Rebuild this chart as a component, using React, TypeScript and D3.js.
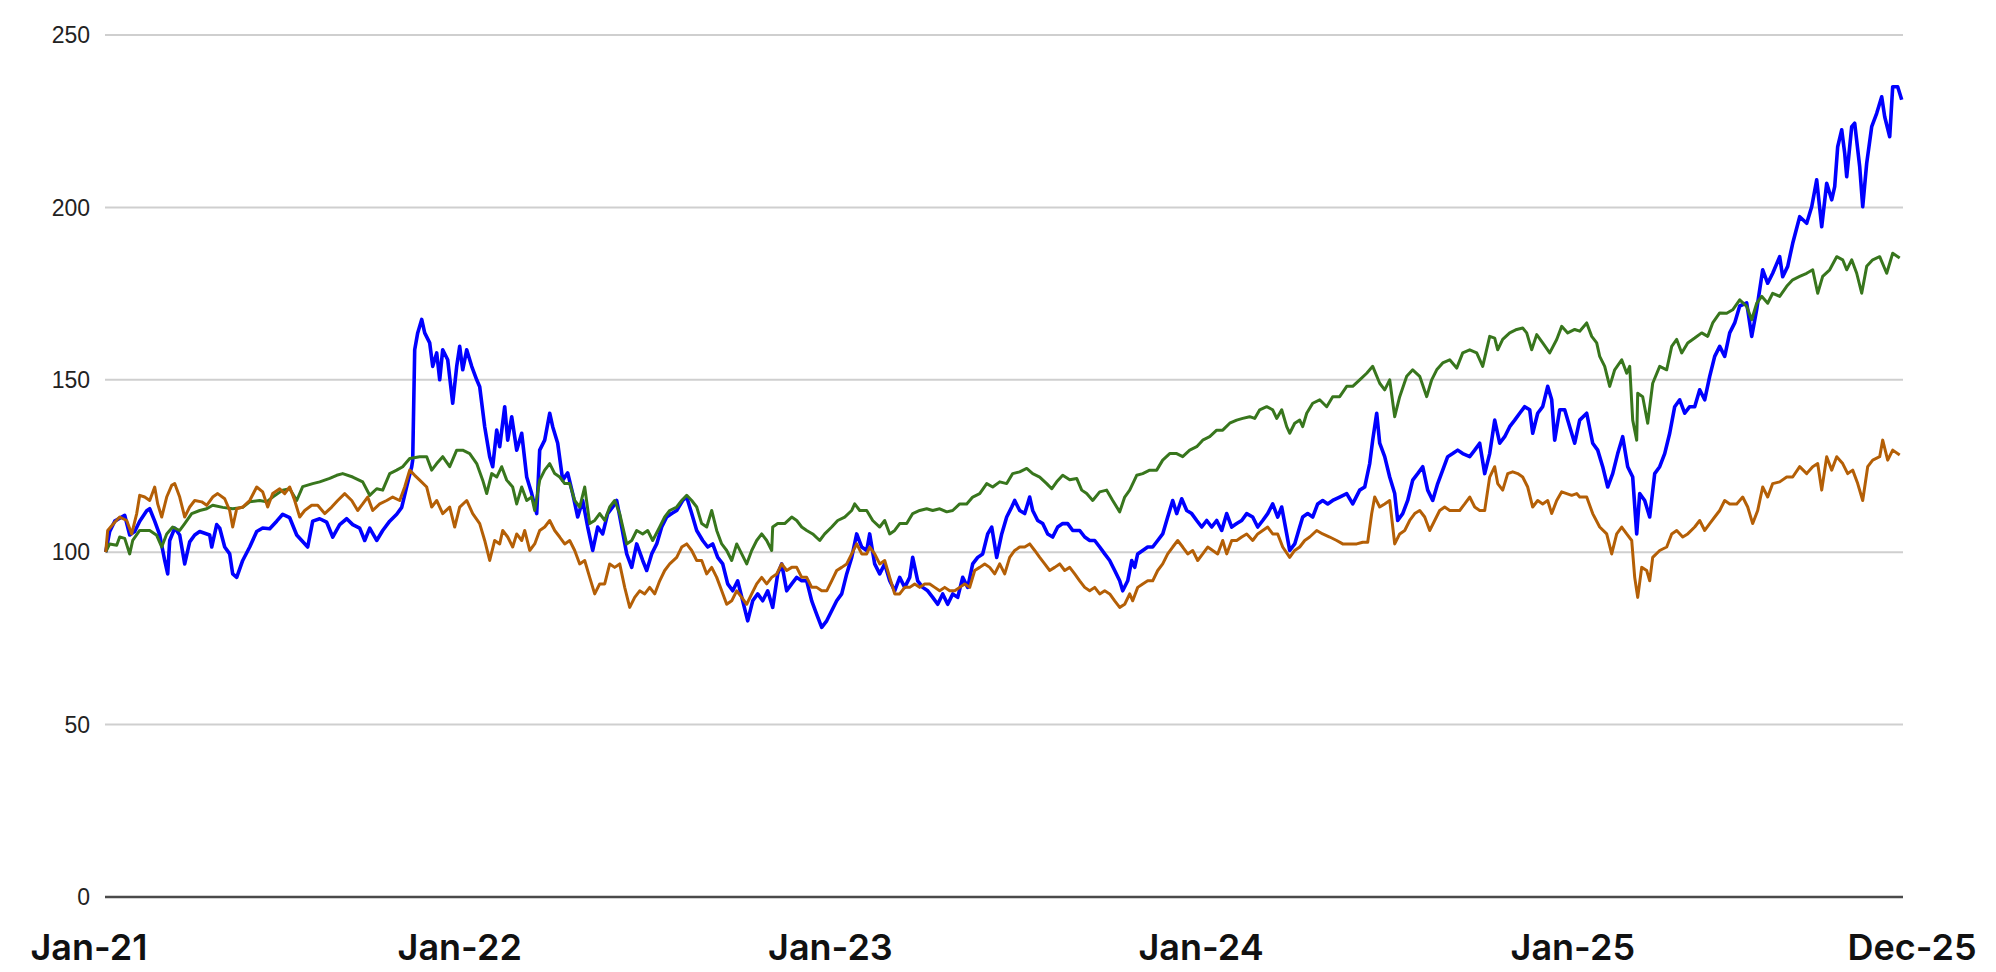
import * as d3 from "d3";

// values; first number = days after 2021-01-01
const blueSeries: [number, number][] = [
  [0,100],[4,106],[9,109],[19,110.7],[24,105],[29,106],[34,109],[41,112],[44,112.6],[49,109],[54,105],[59,97.6],[62,93.7],[64,103.4],[69,107],[74,105],[79,96.6],[84,103],[89,105],[94,106],[104,105],[106,101.5],[111,108],[114,107],[119,101.5],[124,99.5],[127,93.7],[131,92.7],[137,97.6],[144,101.5],[151,106],[157,107],[164,106.8],[171,109],[177,111],[184,110],[191,105],[196,103.4],[202,101.5],[207,109],[214,109.7],[221,108.7],[227,104.4],[234,108],[241,109.7],[247,108],[254,107],[259,103.4],[264,107],[271,103.4],[277,106.3],[284,109],[291,111],[296,113],[301,119],[306,124.8],[307,126.7],[309,158.7],[312,163.6],[316,167.5],[319,163.6],[324,160.7],[327,153.9],[331,157.8],[334,150],[337,158.7],[342,155.8],[347,143.2],[351,153.9],[354,159.7],[357,152.9],[361,158.7],[366,153.9],[371,150],[374,148],[377,141],
  [379,136.4],[384,127.7],[387,124.8],[391,135.4],[394,130.6],[399,142.2],[402,132.5],[406,139.3],[411,129.6],[416,134.5],[421,121.8],[426,117],[431,111.2],[434,129.6],[439,132.5],[444,140.3],[447,136.4],[452,131.6],[457,120.9],[462,123],[467,117],[472,110.2],[477,115],[482,107.3],[487,100.5],[492,107.3],[497,105.3],[502,111.2],[507,113.1],[511,115],[516,107.3],[521,99.5],[526,95.6],[531,102.4],[537,97.6],[541,94.7],[546,99.5],[551,102.4],[556,107.3],[561,110.2],[566,111.2],[571,112.1],[577,115],[581,116],[586,111.2],[591,106.3],[597,103.4],[602,101.5],[607,102.4],[612,98.5],[617,96.6],[622,90.8],[627,88.8],[632,91.7],[637,85.9],[642,80.1],[647,85.9],[652,87.9],[657,85.9],[662,88.8],[667,84],[672,93.7],[676,96.6],[681,88.8],[686,90.8],[691,92.7],[696,91.7],[701,91.7],[706,85.9],[711,82],[716,78.2],[721,80.1],[726,83],[731,85.9],[736,87.9],[741,93.7],[746,98.5],[751,105.3],[756,101.5],[761,100.5],
  [764,105.3],[769,96.6],[774,93.7],[779,96.6],[784,91.7],[789,88.8],[794,92.7],[799,89.8],[804,92.7],[807,98.5],[812,91.7],[817,89.8],[822,88.8],[827,86.9],[832,84.9],[837,87.9],[842,84.9],[847,87.9],[852,86.9],[857,92.7],[862,89.8],[867,96.6],[872,98.5],[877,99.5],[882,105.3],[886,107.3],[891,98.5],[896,105.3],[901,110.2],[906,113.1],[909,115],[914,112.1],[919,111.2],[924,116],[927,112.1],[932,109.2],[937,108.3],[942,105.3],[947,104.4],[952,107.3],[957,108.3],[962,108.3],[967,106.3],[974,106.3],[979,104.4],[984,103.4],[989,103.4],[994,101.5],[999,99.5],[1004,97.6],[1009,94.7],[1014,91.7],[1017,88.8],[1022,91.7],[1026,97.6],[1029,95.6],[1032,99.5],[1037,100.5],[1042,101.5],[1047,101.5],[1052,103.4],[1057,105.3],[1062,110.2],[1067,115],[1071,111.2],[1076,115.5],[1081,112.1],[1086,111.2],[1091,109.2],[1096,107.3],[1101,109.2],[1106,107.3],[1111,109.2],[1116,106.3],[1121,111.2],[1126,107.3],[1131,108.3],[1136,109.2],[1141,111.2],
  [1147,110.2],[1152,107.3],[1157,109.2],[1162,111.2],[1167,114],[1172,110.2],[1176,113.1],[1181,105.3],[1184,100.5],[1189,102.4],[1194,107.3],[1197,110.2],[1202,111.2],[1207,110.2],[1212,114],[1217,115],[1222,114],[1227,115],[1234,116],[1241,117],[1247,114],[1254,118],[1259,118.9],[1264,125.7],[1267,132.5],[1271,140.3],[1274,131.6],[1279,127.7],[1284,121.8],[1289,117],[1292,109.2],[1297,111.2],[1302,115],[1307,120.9],[1312,122.8],[1317,124.8],[1322,118],[1327,115],[1332,119.9],[1337,123.8],[1342,127.7],[1347,128.6],[1352,129.6],[1357,128.6],[1364,127.7],[1369,129.6],[1374,131.6],[1379,122.8],[1384,128.6],[1389,138.3],[1394,131.6],[1399,133.5],[1404,136.4],[1409,138.3],[1414,140.3],[1419,142.2],[1424,141.3],[1427,134.5],[1432,140.3],[1437,142.2],[1442,148.1],[1446,144.2],[1449,132.5],[1454,141.3],[1459,141.3],[1464,136.4],[1469,131.6],
  [1474,138.3],[1481,140.3],[1487,131.6],[1492,129.6],[1497,124.8],[1502,118.9],[1507,122.8],[1512,128.6],[1517,133.5],[1522,124.8],[1527,121.8],[1531,105.3],[1534,117],[1539,115],[1544,110.2],[1549,122.8],[1554,124.8],[1559,128.6],[1564,134.5],[1569,142.2],[1574,144.2],[1579,140.3],[1584,142.2],[1589,142.2],[1594,147.1],[1599,144.2],[1604,151],[1609,156.8],[1614,159.7],[1619,156.8],[1624,163.6],[1629,166.5],[1634,171.4],[1641,172.3],[1646,162.6],[1651,170.4],[1657,181.9],[1662,178],[1667,180.9],[1674,185.7],[1677,179.9],[1682,182.9],[1687,189.6],[1694,197.3],[1701,195.4],[1706,200.2],[1711,208],[1716,194.4],[1721,207],[1726,202.2],[1729,206],[1732,217.6],[1736,222.5],[1739,215.7],[1741,208.9],[1746,223.4],[1749,224.4],[1754,211.8],[1757,200.2],[1761,212.8],[1766,223.4],[1771,227.3],[1776,232.1],[1779,226.3],[1784,220.5],[1787,235],[1792,235],[1796,231.2],
];

const greenSeries: [number, number][] = [
  [0,100],[4,102.4],[11,102],[14,104.4],[19,104],[24,99.5],[27,103.4],[34,106.3],[44,106.3],[51,104.9],[56,101.5],[61,105.3],[67,107.3],[74,106.3],[79,108.3],[86,111.2],[94,112.1],[101,112.6],[107,113.6],[117,113],[127,112.6],[137,113],[144,114.6],[154,115],[161,114.6],[167,116],[177,118],[184,118.4],[191,115],[197,119],[207,119.9],[214,120.4],[224,121.4],[231,122.3],[237,122.8],[247,121.8],[257,120.4],[264,116.5],[271,118.4],[277,118],[284,122.8],[291,123.8],[297,124.8],[304,127.2],[314,127.7],[321,127.7],[326,123.8],[331,125.7],[337,127.7],[344,124.8],[351,129.6],[357,129.6],[364,128.6],[371,125.7],[377,120.9],
  [381,117],[386,122.8],[391,121.8],[396,124.8],[401,120.9],[407,118.9],[411,114],[416,118.9],[421,115],[426,116],[429,112.1],[434,120.9],[439,123.8],[444,125.7],[449,122.8],[454,121.8],[459,119.9],[464,119.9],[469,115],[474,113.1],[479,118.9],[484,108.3],[489,109.2],[494,111.2],[499,109.2],[504,113.1],[509,115],[514,111.2],[521,102.4],[526,103.4],[531,106.3],[537,105.3],[542,106.3],[547,103.4],[554,107.3],[559,110.2],[564,112.1],[571,113.1],[576,115],[581,116.5],[586,115],[591,113.1],[596,108.3],[601,107.3],[606,112.1],[611,106.3],[616,102.4],[621,100.5],[626,97.6],[631,102.4],[636,99.5],[641,96.6],[646,100.5],[651,103.4],[656,105.3],[661,103.4],[666,100.5],[667,107.3],[672,108.3],[679,108.3],[686,110.2],[691,109.2],[696,107.3],[701,106.3],[707,105.3],[714,103.4],[719,105.3],[726,107.3],[732,109.2],[739,110.2],[746,112.1],[749,114],[754,112.1],[761,112.1],
  [767,109.2],[774,107.3],[779,109.2],[784,105.3],[789,106.3],[794,108.3],[801,108.3],[807,111.2],[814,112.1],[821,112.6],[827,112.1],[834,112.6],[841,111.7],[847,112.1],[854,114],[861,114],[867,116],[874,117],[881,119.9],[887,118.9],[894,120.4],[901,119.9],[907,122.8],[914,123.3],[921,124.3],[927,122.8],[934,121.8],[941,119.9],[946,118.4],[951,120.4],[957,122.3],[964,121],[971,121.4],[976,118],[981,117],[987,115],[994,117.5],[1001,118],[1007,115],[1014,111.7],[1019,116],[1024,118],[1031,122.3],[1037,122.8],[1044,123.8],[1051,123.8],[1057,126.7],[1064,128.6],[1071,128.6],[1077,127.7],[1084,129.6],[1091,130.6],[1097,132.5],[1104,133.5],[1111,135.4],[1117,135.4],[1124,137.4],[1131,138.3],[1137,138.8],[1144,139.3],
  [1149,138.8],[1154,141.3],[1161,142.2],[1167,141.3],[1171,138.8],[1176,141.3],[1181,136.4],[1184,134.5],[1189,137.4],[1194,138.3],[1197,136.4],[1201,140.3],[1207,143.2],[1214,144.2],[1221,142.2],[1227,145.1],[1234,145.1],[1241,148.1],[1247,148.1],[1254,150],[1261,151.9],[1267,153.9],[1274,149],[1279,147.1],[1284,150],[1289,139.3],[1294,145.1],[1301,151],[1307,152.9],[1314,151],[1321,145.1],[1326,150],[1331,152.9],[1337,154.9],[1344,155.8],[1351,153.4],[1357,157.8],[1364,158.7],[1371,157.8],[1377,153.9],[1384,162.6],[1389,162.1],[1392,158.7],[1397,161.7],[1404,163.6],[1411,164.6],[1417,165],[1421,163.6],[1426,158.7],[1431,163.1],[1437,160.7],[1444,157.8],[1451,161.7],[1456,165.5],[1462,163.6],[1469,164.6],
  [1474,164.1],[1481,166.5],[1486,162.6],[1491,160.7],[1494,156.8],[1499,153.9],[1504,148.1],[1509,152.9],[1516,155.8],[1521,151.9],[1524,153.9],[1527,138.3],[1531,132.5],[1532,146.1],[1537,145.1],[1542,137.4],[1547,149],[1554,153.9],[1561,152.9],[1566,159.7],[1571,161.7],[1576,157.8],[1582,160.7],[1589,162.1],[1596,163.6],[1602,162.6],[1607,166.5],[1614,169.4],[1621,169.3],[1627,170.3],[1634,173.2],[1641,171.3],[1646,167.4],[1651,172.2],[1656,174.2],[1662,172.2],[1667,175.1],[1674,174.2],[1681,177.1],[1687,179],[1694,180],[1701,180.9],[1707,181.9],[1712,175.1],[1717,180],[1724,181.9],[1731,185.7],[1737,184.8],[1741,181.9],[1746,184.8],[1751,180.9],[1756,175.1],[1761,182.9],[1767,184.8],[1774,185.7],[1781,180.9],[1787,186.7],[1794,185.3],
];

const orangeSeries: [number, number][] = [
  [0,100],[2,106.3],[9,108.7],[14,110.2],[21,109.2],[26,105.3],[31,111.2],[34,116.5],[39,116],[44,115],[49,118.9],[52,114],[56,110.2],[61,116],[66,119.4],[69,119.9],[74,116],[79,110.2],[84,113.1],[89,115],[96,114.6],[101,113.6],[107,116],[112,117],[119,115.5],[124,112.1],[127,107.3],[131,112.6],[137,113.1],[144,115],[151,118.9],[157,117.5],[162,113.1],[167,117],[174,118.4],[179,117],[184,118.9],[189,115],[194,110.2],[199,112.1],[206,113.6],[212,113.6],[219,111.2],[226,113.1],[232,115],[239,117],[246,115],[252,112.1],[257,114],[262,116],[267,112.1],[274,114],[281,115],[287,116],[294,115],[299,118.9],[304,123.8],[309,122.3],[314,120.9],[321,118.9],[326,113.1],[331,115],[337,111.2],[344,113.1],[349,107.3],[354,113.1],[361,115],[367,111.2],[374,108.3],[379,103.4],[384,97.6],
  [389,103.4],[394,102.4],[397,106.3],[402,104.4],[407,101.5],[411,105.3],[416,103.4],[419,106.3],[424,100.5],[429,102.4],[434,106.3],[439,107.3],[444,109.2],[449,106.3],[454,104.4],[459,102.4],[464,103.4],[469,100.5],[474,96.6],[479,97.6],[484,92.7],[489,87.9],[494,90.8],[499,90.8],[504,96.6],[509,95.6],[514,96.6],[519,89.8],[524,84],[529,86.9],[534,88.8],[539,87.9],[544,89.8],[549,87.9],[554,91.7],[559,94.7],[564,96.6],[571,98.5],[576,101.5],[581,102.4],[586,100.5],[591,97.6],[596,97.6],[601,93.7],[606,95.6],[611,92.7],[616,88.8],[621,84.9],[626,85.9],[631,88.8],[636,86.9],[641,84.9],[646,87.9],[651,90.8],[656,92.7],[661,90.8],[666,92.7],[671,93.7],[676,96.6],[681,94.7],[686,95.6],[691,95.6],[696,92.7],[701,92.7],[706,89.8],[711,89.8],[716,88.8],[721,88.8],[726,91.7],[731,94.7],[736,95.6],[741,96.6],[746,99.5],[751,102.4],[756,99.5],[761,99.5],
  [764,101.5],[769,99.5],[774,96.6],[779,97.6],[784,92.7],[789,87.9],[794,87.9],[799,89.8],[804,89.8],[809,90.8],[814,89.8],[819,90.8],[824,90.8],[829,89.8],[834,88.8],[839,89.8],[844,88.8],[849,88.8],[854,89.8],[859,90.8],[864,89.8],[869,94.7],[874,95.6],[879,96.6],[884,95.6],[889,93.7],[894,96.6],[899,93.7],[904,98.5],[909,100.5],[914,101.5],[919,101.5],[924,102.4],[929,100.5],[934,98.5],[939,96.6],[944,94.7],[949,95.6],[954,96.6],[959,94.7],[964,95.6],[969,93.7],[974,91.7],[979,89.8],[984,88.8],[989,89.8],[994,87.9],[999,88.8],[1004,87.9],[1009,85.9],[1014,84],[1019,84.9],[1024,87.9],[1027,85.9],[1032,89.8],[1037,90.8],[1042,91.7],[1047,91.7],[1052,94.7],[1057,96.6],[1062,99.5],[1067,101.5],[1072,103.4],[1077,101.5],[1082,99.5],[1087,100.5],[1092,97.6],[1097,99.5],[1102,101.5],[1107,100.5],[1112,99.5],[1117,103.4],[1121,99.5],[1126,103.4],[1131,103.4],[1136,104.4],[1141,105.3],
  [1147,103.4],[1152,105.3],[1157,106.3],[1162,107.3],[1167,105.3],[1172,105.3],[1177,101.5],[1184,98.5],[1189,100.5],[1194,101.5],[1199,103.4],[1204,104.4],[1211,106.3],[1217,105.3],[1224,104.4],[1231,103.4],[1237,102.4],[1244,102.4],[1251,102.4],[1257,102.9],[1262,102.9],[1266,111.2],[1269,116],[1274,113.1],[1279,114],[1284,115],[1289,102.4],[1294,105.3],[1299,106.3],[1304,109.2],[1309,111.2],[1314,112.1],[1319,110.2],[1324,106.3],[1329,109.2],[1334,112.1],[1339,113.1],[1344,112.1],[1349,112.1],[1354,112.1],[1359,114],[1364,116],[1369,113.1],[1374,112.1],[1379,112.1],[1384,121.8],[1389,124.8],[1392,119.9],[1397,118],[1402,122.8],[1407,123.3],[1412,122.8],[1417,121.8],[1422,118.9],[1427,113.1],[1432,115],[1437,114],[1442,115],[1446,111.2],[1451,115],[1456,117.5],[1461,117],[1466,116.5],[1471,117],
  [1474,116],[1481,116],[1487,111.2],[1494,107.3],[1501,105.3],[1506,99.5],[1511,105.3],[1516,107.3],[1521,105.3],[1526,103.4],[1529,92.7],[1532,86.9],[1536,95.6],[1541,94.7],[1544,91.7],[1547,98.5],[1554,100.5],[1561,101.5],[1566,105.3],[1571,106.3],[1577,104.4],[1582,105.3],[1589,107.3],[1594,109.2],[1599,106.3],[1604,108.3],[1609,110.2],[1614,112.1],[1619,115],[1624,114],[1631,114],[1637,116],[1642,113.1],[1647,108.3],[1652,112.1],[1657,118.9],[1662,116],[1667,119.9],[1674,120.4],[1681,121.8],[1687,121.8],[1694,124.8],[1701,122.8],[1707,124.8],[1712,125.7],[1716,118],[1721,127.7],[1726,123.8],[1731,127.7],[1737,125.7],[1742,122.8],[1747,123.8],[1752,119.9],[1757,115],[1762,124.8],[1767,126.7],[1774,127.7],[1777,132.5],[1782,126.7],[1787,129.6],[1794,128.2],
];

const yTicks = [0, 50, 100, 150, 200, 250];
const xLabels = ["Jan-21", "Jan-22", "Jan-23", "Jan-24", "Jan-25", "Dec-25"];
const xLabelDates = ["2021-01-01", "2022-01-01", "2023-01-01", "2024-01-01", "2025-01-01", "2025-12-01"];

const seriesList = [
  { name: "blue", data: blueSeries, color: "#0000ff", width: 3.6 },
  { name: "green", data: greenSeries, color: "#38761d", width: 3 },
  { name: "orange", data: orangeSeries, color: "#b45f06", width: 3 },
];

const W = 1996;
const H = 972;
const start = new Date(2021, 0, 1);
const toDate = (d: number) => d3.timeDay.offset(start, d);

export default function App() {
  const x = d3
    .scaleTime()
    .domain([start, toDate(1796)])
    .range([105.7, 1901.7]);
  const y = d3.scaleLinear().domain([0, 250]).range([897, 35]);
  // the month labels sit on their own, slightly wider spread
  const xl = d3
    .scaleTime()
    .domain([new Date(2021, 0, 1), new Date(2025, 11, 1)])
    .range([89, 1912]);

  const line = d3
    .line<[number, number]>()
    .x((d) => x(toDate(d[0])))
    .y((d) => y(d[1]));

  return (
    <svg
      width={W}
      height={H}
      style={{ position: "absolute", left: 0, top: 0, background: "#fff" }}
    >
      {yTicks.map((t) => (
        <g key={t}>
          <line
            x1={105}
            x2={1903}
            y1={y(t)}
            y2={y(t)}
            stroke={t === 0 ? "#4a4a4a" : "#cfcfcf"}
            strokeWidth={t === 0 ? 2.4 : 2}
          />
          <text
            x={90}
            y={y(t)}
            dy="0.36em"
            textAnchor="end"
            fontFamily="'Liberation Sans', Arial, sans-serif"
            fontSize={23}
            fill="#222"
          >
            {t}
          </text>
        </g>
      ))}
      {seriesList.map((s) => (
        <path
          key={s.name}
          d={line(s.data) || ""}
          fill="none"
          stroke={s.color}
          strokeWidth={s.width}
          strokeLinejoin="round"
        />
      ))}
      {xLabels.map((lab, i) => (
        <text
          key={lab}
          x={xl(new Date(xLabelDates[i] + "T00:00:00"))}
          y={960}
          textAnchor="middle"
          fontFamily="Inter, 'Noto Sans', sans-serif"
          fontWeight={600}
          fontSize={36}
          fill="#111"
        >
          {lab}
        </text>
      ))}
    </svg>
  );
}
